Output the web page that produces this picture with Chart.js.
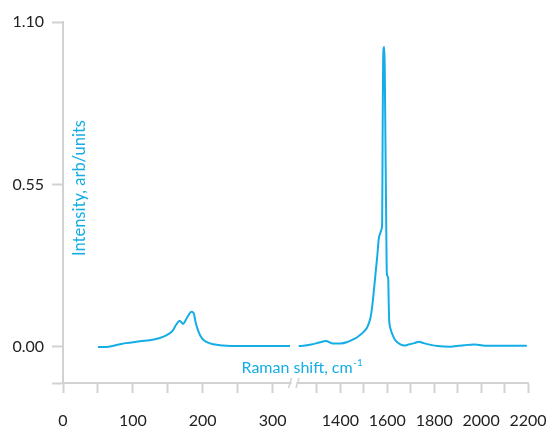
<!DOCTYPE html>
<html>
<head>
<meta charset="utf-8">
<script src="https://cdn.jsdelivr.net/npm/chart.js@4"></script>
<style>
  html, body { margin: 0; padding: 0; background: #fff; }
  #chart { display: block; }
</style>
</head>
<body>
<canvas id="chart" width="558" height="428"></canvas>
<script>
'use strict';

// ─── Data ─────────────────────────────────────────────────────
// low-frequency part, shown left of the axis break
const lowShift = [50, 65, 80, 90, 110, 130, 144, 152, 157, 162, 167, 170, 172, 175, 179, 184, 187, 190, 194, 199, 206, 215, 229, 250, 290, 325];
const lowIntensity = [0.000, 0.001, 0.008, 0.013, 0.019, 0.025, 0.035, 0.045, 0.055, 0.075, 0.089, 0.082, 0.078, 0.088, 0.105, 0.119, 0.115, 0.082, 0.052, 0.029, 0.016, 0.009, 0.005, 0.003, 0.003, 0.003];

// high-frequency part, right of the break
const highShift = [1222, 1250, 1275, 1310, 1338, 1366, 1400, 1430, 1450, 1470, 1485, 1500, 1514, 1528, 1536, 1543, 1550, 1557, 1564, 1570, 1576, 1578, 1580, 1582, 1584, 1587, 1589, 1592, 1595, 1598, 1601, 1604, 1606, 1608, 1610, 1616, 1623, 1632, 1644, 1658, 1672, 1690, 1715, 1735, 1755, 1785, 1815, 1872, 1929, 1972, 2028, 2099, 2195];
const highIntensity = [0.003, 0.005, 0.008, 0.015, 0.020, 0.012, 0.012, 0.017, 0.024, 0.032, 0.041, 0.052, 0.066, 0.098, 0.140, 0.193, 0.250, 0.306, 0.368, 0.385, 0.400, 0.420, 0.700, 0.950, 1.010, 1.015, 0.950, 0.700, 0.450, 0.250, 0.240, 0.230, 0.150, 0.090, 0.075, 0.055, 0.040, 0.025, 0.015, 0.008, 0.005, 0.008, 0.013, 0.018, 0.013, 0.007, 0.003, 0.001, 0.006, 0.008, 0.004, 0.004, 0.004];

const lowTicks = [0, 50, 100, 150, 200, 250, 300];
const highTicks = [1300, 1400, 1500, 1600, 1700, 1800, 1900, 2000, 2100, 2200];
const yTicks = [0, 0.55, 1.10];

const Y_MIN = -0.122;
const BLUE = '#14ADE6';
const AXIS = '#d2d2d2';
const LABEL = '#222222';

Chart.defaults.font.family = 'Lato, "Open Sans", sans-serif';
Chart.defaults.font.size = 16;
Chart.defaults.color = LABEL;

const toPoints = (xs, ys) => xs.map((x, i) => ({ x, y: ys[i] }));

// axis titles sit inside the plot, plus the "//" break marks
const decorations = {
    id: 'decorations',
    afterDraw(chart) {
        const { ctx, chartArea, scales } = chart;
        const bx = scales.x.right;
        const by = chartArea.bottom;

        ctx.save();
        // break in the x axis
        ctx.fillStyle = '#fff';
        ctx.fillRect(bx - 2, by - 2, 5, 4);
        ctx.strokeStyle = AXIS;
        ctx.lineWidth = 1.5;
        [-3.5, 4].forEach(dx => {
            ctx.beginPath();
            ctx.moveTo(bx + dx - 1.5, by + 5);
            ctx.lineTo(bx + dx + 1.5, by - 5);
            ctx.stroke();
        });

        // x title with superscript
        ctx.fillStyle = BLUE;
        ctx.textBaseline = 'alphabetic';
        ctx.textAlign = 'left';
        ctx.font = '16px Lato, "Open Sans", sans-serif';
        const main = 'Raman shift, cm';
        const tx = bx - 52;
        const ty = by - 10;
        ctx.fillText(main, tx, ty);
        const w = ctx.measureText(main).width;
        ctx.font = '10px Lato, "Open Sans", sans-serif';
        ctx.fillText('-1', tx + w + 0.5, ty - 7);

        // y title, rotated
        ctx.font = '16.5px Lato, "Open Sans", sans-serif';
        ctx.translate(chartArea.left + 17, 188);
        ctx.rotate(-Math.PI / 2);
        ctx.textAlign = 'center';
        ctx.textBaseline = 'middle';
        ctx.fillText('Intensity, arb/units', 0, 0);
        ctx.restore();
    }
};

const xCommon = {
    type: 'linear',
    position: 'bottom',
    stack: 'shift',
    grid: { drawOnChartArea: false, color: AXIS, tickColor: AXIS, tickWidth: 2, tickLength: 10 },
    border: { display: true, color: AXIS, width: 2 },
    ticks: { autoSkip: false, maxRotation: 0, padding: 18, color: LABEL },
    afterFit: s => {
        s.height = 45;
        // the outer labels fit inside the layout padding already
        s.paddingLeft = 0;
        s.paddingRight = 0;
    }
};

new Chart(document.getElementById('chart'), {
    type: 'line',
    data: {
        datasets: [
            {
                data: toPoints(lowShift, lowIntensity),
                xAxisID: 'x',
                borderColor: BLUE,
                borderWidth: 2,
                pointRadius: 0,
                cubicInterpolationMode: 'monotone',
                fill: false
            },
            {
                data: toPoints(highShift, highIntensity),
                xAxisID: 'x2',
                borderColor: BLUE,
                borderWidth: 2,
                pointRadius: 0,
                cubicInterpolationMode: 'monotone',
                fill: false
            }
        ]
    },
    options: {
        responsive: false,
        animation: false,
        devicePixelRatio: 1,
        layout: { padding: { top: 22, right: 30, bottom: 0, left: 0 } },
        plugins: { legend: { display: false }, tooltip: { enabled: false } },
        scales: {
            x: {
                ...xCommon,
                stackWeight: 231,
                min: 0,
                max: 330,
                afterBuildTicks: s => { s.ticks = lowTicks.map(v => ({ value: v })); },
                ticks: { ...xCommon.ticks, callback: v => (v % 100 === 0 ? String(v) : '') }
            },
            x2: {
                ...xCommon,
                stackWeight: 235,
                min: 1200,
                max: 2200,
                afterBuildTicks: s => { s.ticks = highTicks.map(v => ({ value: v })); },
                ticks: { ...xCommon.ticks, callback: v => (v >= 1400 && v % 200 === 0 ? String(v) : '') }
            },
            y: {
                type: 'linear',
                min: Y_MIN,
                max: 1.10,
                grid: { drawOnChartArea: false, color: AXIS, tickColor: AXIS, tickWidth: 2, tickLength: 11 },
                border: { display: true, color: AXIS, width: 2 },
                afterBuildTicks: s => { s.ticks = [Y_MIN, ...yTicks].map(v => ({ value: v })); },
                ticks: {
                    autoSkip: false,
                    padding: 8,
                    color: LABEL,
                    callback: v => (v === Y_MIN ? '' : v.toFixed(2))
                },
                afterFit: s => { s.width = 63; }
            }
        }
    },
    plugins: [decorations]
});
</script>
</body>
</html>
